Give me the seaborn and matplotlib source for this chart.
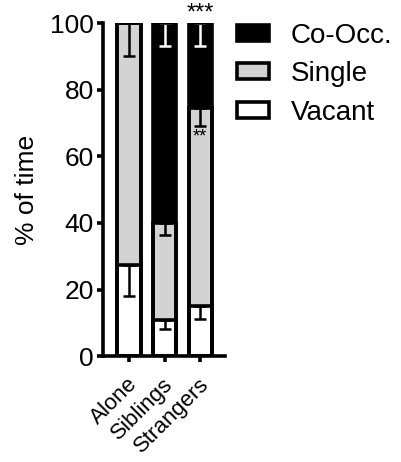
import numpy as np
import pandas as pd
import matplotlib
matplotlib.use("Agg")
import matplotlib.pyplot as plt
import matplotlib.transforms as mtransforms
import seaborn as sns
from matplotlib.patches import Patch

groups = ["Alone", "Siblings", "Strangers"]
vacant = [27.5, 11.0, 15.0]
single = [72.5, 29.0, 59.5]
co_occ = [0.0, 60.0, 25.5]
vacant_err = [9.5, 2.7, 3.8]
single_err = [10.0, 3.5, 5.5]
co_occ_err = [0.0, 7.0, 7.0]
stars = ["", "", "***"]
single_stars = ["", "", "**"]

sns.set_theme(style="ticks")
plt.rcParams["font.family"] = ["Liberation Sans", "DejaVu Sans"]
plt.rcParams.update({
    "text.color": "black",
    "axes.labelcolor": "black",
    "xtick.color": "black",
    "ytick.color": "black",
})

lw = 2.6
fig = plt.figure(figsize=(4.01, 4.62), dpi=100)
ax = fig.add_axes([0.257, 0.229, 0.304, 0.721])

v = np.array(vacant)
s = np.array(single)
c = np.array(co_occ)
df = pd.DataFrame({
    "group": groups,
    "top": v + s + c,
    "mid": v + s,
    "low": v,
})

layers = [("top", "black"), ("mid", "#d3d3d3"), ("low", "white")]
# fills first
for col, colr in layers:
    sns.barplot(data=df, x="group", y=col, order=groups, color=colr,
                width=0.65, linewidth=0, saturation=1, ax=ax, zorder=1)

# error bars hang down from the top of each segment
x = np.arange(len(groups))
ekw = dict(fmt="none", capsize=4.3, elinewidth=1.8, capthick=1.8, zorder=2)
ax.errorbar(x, v + s + c, yerr=[co_occ_err, np.zeros(3)], ecolor="white", **ekw)
ax.errorbar(x, v + s, yerr=[single_err, np.zeros(3)], ecolor="black", **ekw)
ax.errorbar(x, v, yerr=[vacant_err, np.zeros(3)], ecolor="black", **ekw)

# outlines on top
for col, _ in layers:
    sns.barplot(data=df, x="group", y=col, order=groups, fill=False,
                width=0.65, linewidth=lw, edgecolor="black", ax=ax, zorder=3)

for xi, t in zip(x, stars):
    if t:
        ax.text(xi, 102.8, t, ha="center", va="center", fontsize=17,
                clip_on=False)
for xi, t, val in zip(x, single_stars, v + s):
    if t:
        ax.text(xi, val - single_err[xi] - 3.2, t, ha="center", va="center",
                fontsize=13, color="black", zorder=4)

ax.set_ylim(0, 100)
ax.set_xlim(-0.73, 2.7)
ax.set_yticks([0, 20, 40, 60, 80, 100])
ax.set_ylabel("% of time", fontsize=19, labelpad=8)
ax.set_xlabel("")
ax.tick_params(axis="y", labelsize=19, width=lw, length=4.5, color="black",
               labelcolor="black", pad=2)
ax.tick_params(axis="x", labelsize=16, width=lw, length=4.5, color="black",
               labelcolor="black", pad=8)
ax.set_xticks(x)
ax.set_xticklabels(groups, rotation=45, ha="right", rotation_mode="anchor")
shift = mtransforms.ScaledTranslation(-2 / 100, 0, fig.dpi_scale_trans)
for lab in ax.get_xticklabels():
    lab.set_transform(lab.get_transform() + shift)
sns.despine(ax=ax)
for sp in ["left", "bottom"]:
    ax.spines[sp].set_linewidth(lw)
    ax.spines[sp].set_color("black")

handles = [
    Patch(facecolor="black", edgecolor="black", linewidth=lw, label="Co-Occ."),
    Patch(facecolor="#d3d3d3", edgecolor="black", linewidth=lw, label="Single"),
    Patch(facecolor="white", edgecolor="black", linewidth=lw, label="Vacant"),
]
fig.legend(handles=handles, loc="upper left", bbox_to_anchor=(0.592, 0.951),
           frameon=False, fontsize=20, handlelength=1.13, handleheight=0.49,
           labelspacing=0.45, handletextpad=0.8, borderpad=0,
           borderaxespad=0)

fig.savefig("out.png", dpi=100)
